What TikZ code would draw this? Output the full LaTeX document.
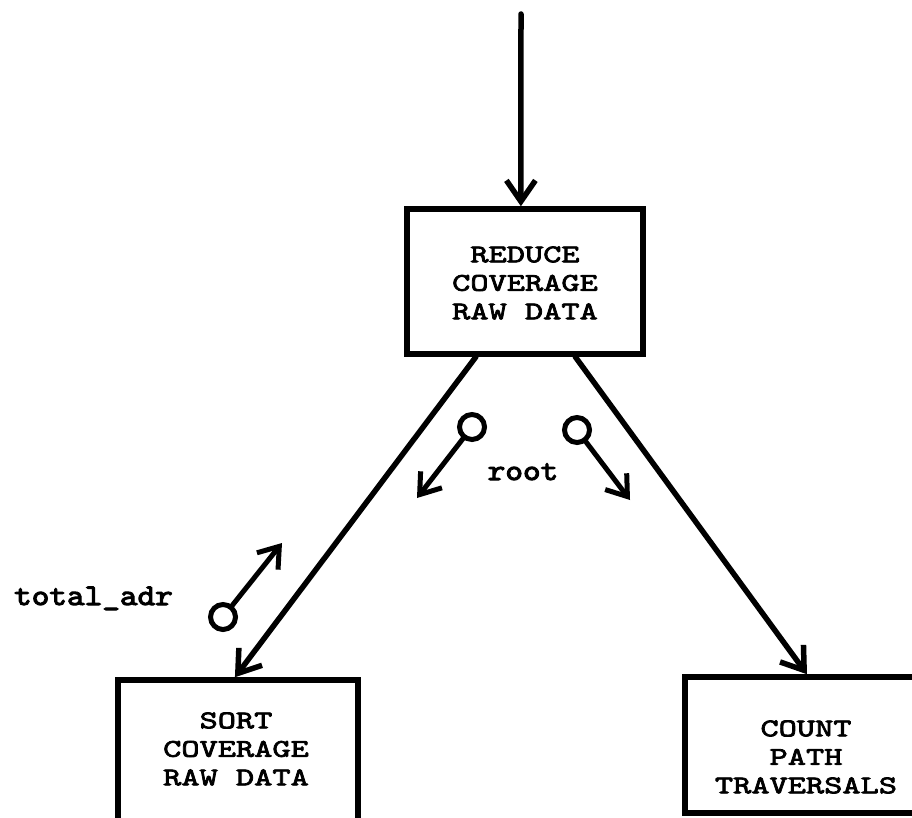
\documentclass[tikz,border=0pt]{standalone}
\usepackage{fontspec}
\usetikzlibrary{arrows.meta,calc}
% typewriter faces for box captions and pointer labels
\newfontfamily\boxfont{lmmono10-regular.otf}[FakeStretch=1.36,FakeBold=3]
\newfontfamily\labfont{lmmono10-regular.otf}[FakeStretch=1.12,FakeBold=3.5]
\begin{document}
\begin{tikzpicture}[x=1pt,y=-1pt,
  box/.style={draw, line width=5.5pt, inner sep=0pt, rectangle},
  boxtext/.style={align=center, inner sep=0pt,
    font=\boxfont\fontsize{25.5}{28.5}\selectfont},
  lab/.style={inner sep=0pt, anchor=base,
    font=\labfont\fontsize{30}{30}\selectfont},
  wire/.style={line width=5.5pt, line cap=round,
    -{Straight Barb[length=21pt,width=29pt]}},
  ring/.style={circle, draw, line width=5pt, minimum size=25pt, inner sep=0pt},
  ptr/.style={line width=5pt, line cap=round,
    -{Straight Barb[length=19pt,width=27pt]}}]
\clip (0,0) rectangle (912,818);

% module boxes
\node[box, minimum width=236pt, minimum height=145pt] (reduce) at (525,281.5) {};
\node[box, minimum width=240pt, minimum height=144pt] (sort)   at (238,752) {};
\node[box, minimum width=242pt, minimum height=136pt] (count)  at (806,745) {};

\node[boxtext] (reducetxt) at (525,283) {REDUCE\\COVERAGE\\RAW DATA};
\node[boxtext] (sorttxt)   at (236,749) {SORT\\COVERAGE\\RAW DATA};
\node[boxtext] (counttxt)  at (806,757) {COUNT\\PATH\\TRAVERSALS};

% incoming call
\coordinate (entry) at (521,14);
\draw[wire] (entry) -- ($(reduce.north west)!0.483!(reduce.north east)$);

% calls to the two sub-modules
\draw[wire] ($(reduce.south west)!0.297!(reduce.south east)$)
         -- ($(sort.north west)!0.4875!(sort.north east)$);
\draw[wire] ($(reduce.south west)!0.708!(reduce.south east)$)
         -- ($(count.north west)!0.504!(count.north east)$);

% data couples
\node[ring] (rootL) at (472,427) {};
\coordinate (rootLtip) at (417,498);
\draw[ptr] (rootL) -- (rootLtip);

\node[ring] (rootR) at (577,430) {};
\coordinate (rootRtip) at (630,500);
\draw[ptr] (rootR) -- (rootRtip);

\node[ring] (tadr) at (223,617) {};
\coordinate (tadrtip) at (282,543);
\draw[ptr] (tadr) -- (tadrtip);

\node[lab] (rootlab) at (523,480) {root};
\node[lab] (tadrlab) at (93.5,605) {total\_adr};
\end{tikzpicture}
\end{document}
